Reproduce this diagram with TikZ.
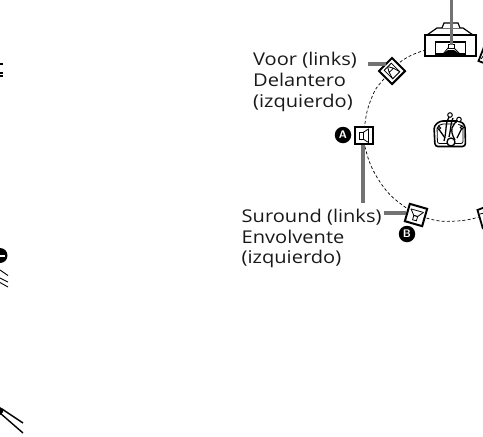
\documentclass[tikz,border=0pt]{standalone}
\usepackage{fontspec}
\setmainfont[FakeStretch=1.14]{Open Sans}
\tikzset{
  lab/.style={anchor=base west,inner sep=0pt,font=\fontsize{17.6}{20}\selectfont,text=black!90},
  lead/.style={draw=black!55,line width=3.2pt},
  spk/.style={draw=black,line width=2pt,fill=white},
  thin/.style={draw=black,line width=0.8pt},
  badge/.style={circle,fill=black,text=white,minimum size=16.5pt,inner sep=0pt,font=\sffamily\bfseries\fontsize{11}{11}\selectfont},
  ring/.style={draw=black,line width=0.7pt,dash pattern=on 3pt off 2.2pt}
}
\begin{document}
\begin{tikzpicture}[x=1pt,y=-1pt]
\useasboundingbox (0,0) rectangle (483,437);
\clip (0,0) rectangle (483,437);
\draw[ring] plot[smooth,tension=0.8] coordinates {(426,50) (403,60) (383,80) (372,97) (365,123) (365,147) (380,182) (405,207) (430,219) (457,221) (479,217)};
% centre speaker
\draw[line width=1.2pt,fill=white] (427,35) -- (437,28) -- (463,28) -- (473,35) -- cycle;
\draw[line width=1.2pt,fill=white] (442,28) -- (444,23) -- (458,23) -- (460,28);
\node[draw=black,line width=1.2pt,fill=white,minimum width=51pt,minimum height=21pt,inner sep=0pt] (cbox) at (450.5,45.5) {};
\node[draw=black,line width=1.9pt,minimum width=30pt,minimum height=12pt,inner sep=0pt] (cin) at (450.5,48) {};
\draw[thin] (443,54) -- (448,48) -- (454,48) -- (460,54);
\fill[black] (443,54) -- (448,50) -- (454,50) -- (460,54) -- cycle;
\draw[thin,fill=white] (448.5,44) rectangle (454.5,48);
\coordinate (ctop) at (451.5,0);
\draw[lead] (ctop) -- (451.5,45);
% front left
\node[spk,minimum size=18.5pt,inner sep=0pt,rotate=-45] (fl) at (392,71) {};
\begin{scope}[shift={(392,71)},rotate=-45]
\draw[thin] (-6,-5) -- (6,-5) -- (6,5) -- (-6,5) -- cycle;
\draw[thin] (-5.5,-0.5) -- (-1,-3) -- (-1,3) -- (-5.5,0.5);
\draw[thin] (-1,-3) -- (6,-5);
\draw[thin] (-1,3) -- (6,5);
\end{scope}
\coordinate (flend) at (368,64);
\draw[lead] (flend) -- (386,64);
\node[lab] (t1) at (253,65) {Voor (links)};
\node[lab] (t2) at (253,86) {Delantero};
\node[lab] (t3) at (253,107) {(izquierdo)};
% left speaker A
\node[spk,minimum width=18pt,minimum height=17.5pt,inner sep=0pt] (sa) at (364,135.5) {};
\draw[thin] (359,132.5) rectangle (363,139);
\draw[thin] (363,132.5) -- (368.5,129) -- (368.5,142.5) -- (363,139);
\node[badge] (a) at (343,135) {A};
\draw[lead] (363,145) -- (363,203);
% surround left
\node[spk,minimum size=18pt,inner sep=0pt,rotate=-16] (sl) at (416,215) {};
\begin{scope}[shift={(416,215)},rotate=-16]
\draw[thin] (-6.5,-4.5) -- (6.5,-4.5);
\draw[thin] (-6.5,-4.5) -- (-2,1) -- (2,1) -- (6.5,-4.5);
\draw[thin] (-2,1) rectangle (2,5.5);
\end{scope}
\coordinate (slend) at (384,213);
\draw[lead] (slend) -- (406,213);
\node[badge] (b) at (407,234) {B};
\node[lab] (t4) at (241.5,222) {Suround (links)};
\node[lab] (t5) at (241.5,243) {Envolvente};
\node[lab] (t6) at (241.5,263) {(izquierdo)};
% right speakers (cut by the edge)
\draw[spk,line width=1.8pt] (484,47) -- (478.5,61) -- (492,66);
\draw[thin] (481,59) -- (484,55);
\draw[spk,line width=1.8pt] (484,207.5) -- (477.5,210) -- (483,229);
\draw[thin] (480,214) -- (484,213);
% listener
\draw[line width=1.6pt,rounded corners=3pt,fill=white] (434,126) -- (440,121) -- (460,121) -- (465,125) -- (465.5,146.5) -- (435,146.5) -- cycle;
\draw[thin,rounded corners=2pt] (437,127) -- (441,124) -- (459,124) -- (463,127) -- (463,143.5) -- (437.5,143.5) -- cycle;
\draw[line width=1.3pt] (449,117) .. controls (445,123) and (447,130) .. (444,141);
\draw[line width=1.3pt] (453,118) .. controls (450,125) and (451,130) .. (449,137);
\draw[line width=1.3pt,fill=white] (459,120) .. controls (452,124) and (449,130) .. (455,140);
\draw[line width=1.3pt] (438,128) -- (445,138);
\draw[line width=1.3pt] (462,128) -- (457,138);
\draw[line width=1pt,fill=white] (450,115) circle (2.3);
\draw[line width=1pt,fill=white] (459,119.5) circle (2.3);
\draw[line width=1pt,fill=white] (439,128) circle (1.7);
\draw[line width=1pt,fill=white] (462,127.5) circle (1.7);
\draw[line width=1.3pt,fill=white] (451,142) circle (4);
% left edge fragments
\fill[black] (0,63) rectangle (3,65);
\fill[black] (0,71.5) rectangle (3,73.5);
\fill[black] (0,75) rectangle (3,76.5);
\fill[black] (0,255.5) circle (7.5);
\fill[white] (0,254.5) rectangle (4.5,256.5);
\draw[line width=0.9pt] (0,270) -- (8,275.5);
\draw[line width=0.9pt] (0,278) -- (8,282);
\draw[line width=0.9pt] (0,282.5) -- (8,287);
\draw[line width=1.4pt] (2,409) -- (23,423);
\draw[line width=1.4pt] (0,413) -- (23,433);
\fill[black] (0,407) -- (3,409) -- (3,412) -- (0,415) -- cycle;
\end{tikzpicture}
\end{document}
